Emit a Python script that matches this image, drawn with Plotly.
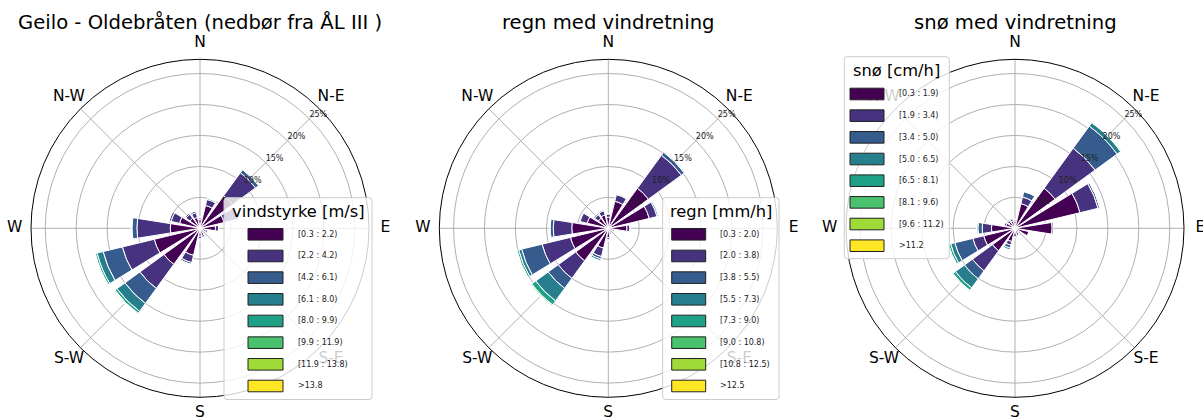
import plotly.graph_objects as go

# ---------------- data ----------------
directions = ["N", "NNE", "NE", "ENE", "E", "ESE", "SE", "SSE",
              "S", "SSW", "SW", "WSW", "W", "WNW", "NW", "NNW"]
compass_ticks = ["N", "NE", "E", "SE", "S", "SW", "W", "NW"]
compass_text = ["N", "N-E", "E", "S-E", "S", "S-W", "W", "N-W"]
radial_ticks = [5, 10, 15, 20, 25]
radial_text = ["5%", "10%", "15%", "20%", "25%"]

titles = ["Geilo - Oldebråten (nedbør fra ÅL III )", "regn med vindretning", "snø med vindretning"]
legend_titles = ["vindstyrke [m/s]", "regn [mm/h]", "snø [cm/h]"]

vind_labels = ["[0.3 : 2.2)", "[2.2 : 4.2)", "[4.2 : 6.1)", "[6.1 : 8.0)",
               "[8.0 : 9.9)", "[9.9 : 11.9)", "[11.9 : 13.8)", ">13.8"]
regn_labels = ["[0.3 : 2.0)", "[2.0 : 3.8)", "[3.8 : 5.5)", "[5.5 : 7.3)",
               "[7.3 : 9.0)", "[9.0 : 10.8)", "[10.8 : 12.5)", ">12.5"]
sno_labels = ["[0.3 : 1.9)", "[1.9 : 3.4)", "[3.4 : 5.0)", "[5.0 : 6.5)",
              "[6.5 : 8.1)", "[8.1 : 9.6)", "[9.6 : 11.2)", ">11.2"]

# percent of observations per direction (N..NNW) for each class
vind_b0 = [1.4, 3.8, 6.5, 4.0, 2.5, 1.0, 0.6, 1.2, 1.3, 4.5, 7.2, 7.6, 4.8, 3.4, 2.0, 1.8]
vind_b1 = [0.3, 1.0, 4.6, 2.5, 0.5, 0.3, 0.2, 0.3, 0.4, 1.2, 4.8, 5.3, 5.4, 1.4, 0.8, 0.8]
vind_b2 = [0.1, 0.2, 0.6, 0.1, 0.05, 0.05, 0.05, 0.1, 0.2, 0.3, 3.0, 3.2, 0.8, 0.35, 0.25, 0.3]
vind_b3 = [0.02, 0.02, 0.1, 0.02, 0.0, 0.0, 0.0, 0.02, 0.02, 0.05, 1.6, 1.0, 0.1, 0.02, 0.02, 0.02]
vind_b4 = [0.0, 0.0, 0.02, 0.0, 0.0, 0.0, 0.0, 0.0, 0.0, 0.02, 0.4, 0.3, 0.02, 0.0, 0.0, 0.0]
vind_b5 = [0.0, 0.0, 0.0, 0.0, 0.0, 0.0, 0.0, 0.0, 0.0, 0.0, 0.15, 0.12, 0.0, 0.0, 0.0, 0.0]
vind_b6 = [0.0, 0.0, 0.0, 0.0, 0.0, 0.0, 0.0, 0.0, 0.0, 0.0, 0.05, 0.05, 0.0, 0.0, 0.0, 0.0]
vind_b7 = [0.0, 0.0, 0.0, 0.0, 0.0, 0.0, 0.0, 0.0, 0.0, 0.0, 0.02, 0.02, 0.0, 0.0, 0.0, 0.0]

regn_b0 = [1.8, 4.5, 8.0, 6.8, 3.0, 0.8, 0.5, 0.9, 1.5, 3.3, 6.5, 6.3, 5.9, 3.5, 2.0, 2.2]
regn_b1 = [0.5, 1.1, 6.6, 1.3, 0.5, 0.2, 0.1, 0.2, 0.3, 1.4, 3.5, 4.7, 3.0, 1.2, 0.7, 0.7]
regn_b2 = [0.1, 0.1, 0.6, 0.2, 0.05, 0.0, 0.0, 0.05, 0.2, 0.4, 2.0, 3.4, 0.5, 0.1, 0.2, 0.2]
regn_b3 = [0.0, 0.0, 0.1, 0.0, 0.0, 0.0, 0.0, 0.0, 0.02, 0.3, 2.5, 0.5, 0.1, 0.0, 0.0, 0.02]
regn_b4 = [0.0, 0.0, 0.0, 0.0, 0.0, 0.0, 0.0, 0.0, 0.0, 0.1, 0.8, 0.3, 0.02, 0.0, 0.0, 0.0]
regn_b5 = [0.0, 0.0, 0.0, 0.0, 0.0, 0.0, 0.0, 0.0, 0.0, 0.02, 0.2, 0.1, 0.0, 0.0, 0.0, 0.0]
regn_b6 = [0.0, 0.0, 0.0, 0.0, 0.0, 0.0, 0.0, 0.0, 0.0, 0.0, 0.05, 0.03, 0.0, 0.0, 0.0, 0.0]
regn_b7 = [0.0, 0.0, 0.0, 0.0, 0.0, 0.0, 0.0, 0.0, 0.0, 0.0, 0.02, 0.0, 0.0, 0.0, 0.0, 0.0]

sno_b0 = [1.2, 4.1, 8.0, 10.8, 6.0, 2.3, 0.8, 1.2, 1.4, 2.2, 4.5, 5.2, 3.8, 1.5, 1.2, 1.2]
sno_b1 = [0.2, 1.1, 8.0, 3.0, 0.2, 0.1, 0.05, 0.1, 0.1, 0.6, 4.0, 1.8, 1.5, 0.3, 0.3, 0.3]
sno_b2 = [0.1, 0.9, 4.4, 0.3, 0.0, 0.0, 0.0, 0.0, 0.05, 0.5, 1.6, 3.0, 0.7, 0.1, 0.2, 0.2]
sno_b3 = [0.0, 0.05, 0.7, 0.02, 0.0, 0.0, 0.0, 0.0, 0.0, 0.3, 1.8, 0.7, 0.2, 0.02, 0.05, 0.02]
sno_b4 = [0.0, 0.0, 0.1, 0.0, 0.0, 0.0, 0.0, 0.0, 0.0, 0.05, 0.5, 0.35, 0.02, 0.0, 0.0, 0.0]
sno_b5 = [0.0, 0.0, 0.0, 0.0, 0.0, 0.0, 0.0, 0.0, 0.0, 0.0, 0.15, 0.15, 0.0, 0.0, 0.0, 0.0]
sno_b6 = [0.0, 0.0, 0.0, 0.0, 0.0, 0.0, 0.0, 0.0, 0.0, 0.0, 0.05, 0.05, 0.0, 0.0, 0.0, 0.0]
sno_b7 = [0.0, 0.0, 0.0, 0.0, 0.0, 0.0, 0.0, 0.0, 0.0, 0.0, 0.02, 0.02, 0.0, 0.0, 0.0, 0.0]

viridis8 = ["#440154", "#46327e", "#365c8d", "#277f8e",
            "#1fa187", "#4ac16d", "#a0da39", "#fde725"]

panels = [
    ([vind_b0, vind_b1, vind_b2, vind_b3, vind_b4, vind_b5, vind_b6, vind_b7], vind_labels),
    ([regn_b0, regn_b1, regn_b2, regn_b3, regn_b4, regn_b5, regn_b6, regn_b7], regn_labels),
    ([sno_b0, sno_b1, sno_b2, sno_b3, sno_b4, sno_b5, sno_b6, sno_b7], sno_labels),
]

# ---------------- layout geometry (pixels) ----------------
W, H = 1203, 418
FONT = "DejaVu Sans"


def px(x):
    return x / W


def py(y):
    return 1 - y / H


centers_x = [200.0, 608.3, 1015.0]
center_y = 228.3
radius = 169.0
R_MAX = 27.3
label_radius = 185.3          # compass label centres (px from centre)
LBL_RANGE = 1.01              # label ring sits at r=1 of an overlay polar

# legend boxes: (left, right, top, bottom, rect_left, rect_right, label_x, first_row_y)
legend_boxes = [
    (224.0, 372.0, 197.7, 399.5, 248.0, 283.0, 296.0, 234.3),
    (662.7, 779.0, 197.7, 399.5, 671.7, 705.7, 718.0, 234.3),
    (844.3, 949.3, 56.7, 258.7, 850.0, 884.0, 896.7, 94.0),
]
row_step = 21.67

fig = go.Figure()
layout_polars = {}

for p, (bins, labels) in enumerate(panels):
    sub = "polar" if p == 0 else f"polar{p + 1}"
    lsub = f"polar{p + 4}"
    for b, vals in enumerate(bins):
        fig.add_trace(go.Barpolar(
            r=vals, theta=directions, name=labels[b],
            marker=dict(color=viridis8[b], line=dict(color="white", width=1)),
            subplot=sub, showlegend=False,
        ))
    # radial percentage labels along the N-E spoke
    fig.add_trace(go.Scatterpolar(
        r=radial_ticks, theta=["NE"] * len(radial_ticks), text=radial_text,
        mode="text", textposition="top right", cliponaxis=False,
        textfont=dict(size=8, family=FONT, color="#222"),
        subplot=sub, showlegend=False, hoverinfo="skip",
    ))
    # compass labels on a transparent overlay polar slightly larger than the rose
    fig.add_trace(go.Scatterpolar(
        r=[1.0] * len(compass_ticks), theta=compass_ticks, text=compass_text,
        mode="text", textposition="middle center", cliponaxis=False,
        textfont=dict(size=15.5, family=FONT, color="black"),
        subplot=lsub, showlegend=False, hoverinfo="skip",
    ))
    cx = centers_x[p]
    layout_polars[sub] = dict(
        domain=dict(x=[px(cx - radius), px(cx + radius)],
                    y=[py(center_y + radius), py(center_y - radius)]),
        bgcolor="white",
        bargap=0.2,
        barmode="stack",
        radialaxis=dict(range=[0, R_MAX], tickvals=radial_ticks, showticklabels=False,
                        showline=False, ticks="", angle=45,
                        gridcolor="#b0b0b0", gridwidth=0.8),
        angularaxis=dict(type="category", categoryarray=directions,
                         rotation=90, direction="clockwise",
                         tickmode="array", tickvals=compass_ticks, showticklabels=False,
                         ticks="",
                         showline=True, linecolor="black", linewidth=1,
                         gridcolor="#b0b0b0", gridwidth=0.8),
    )
    lr = label_radius * LBL_RANGE
    layout_polars[lsub] = dict(
        domain=dict(x=[px(cx - lr), px(cx + lr)],
                    y=[py(center_y + lr), py(center_y - lr)]),
        bgcolor="rgba(0,0,0,0)",
        radialaxis=dict(range=[0, LBL_RANGE], visible=False),
        angularaxis=dict(type="category", categoryarray=directions,
                         rotation=90, direction="clockwise", visible=False),
    )

fig.update_layout(**layout_polars)

annotations = []
shapes = []
for p in range(3):
    annotations.append(dict(
        x=px(centers_x[p]), y=py(22.5), xref="paper", yref="paper",
        text=titles[p], showarrow=False, xanchor="center", yanchor="middle",
        font=dict(size=19.6, family=FONT, color="black")))

    L, R, T, B, rl, rr, lx, y0 = legend_boxes[p]
    r = 3.0
    path = (f"M {px(L + r)},{py(T)} L {px(R - r)},{py(T)} Q {px(R)},{py(T)} {px(R)},{py(T + r)} "
            f"L {px(R)},{py(B - r)} Q {px(R)},{py(B)} {px(R - r)},{py(B)} "
            f"L {px(L + r)},{py(B)} Q {px(L)},{py(B)} {px(L)},{py(B - r)} "
            f"L {px(L)},{py(T + r)} Q {px(L)},{py(T)} {px(L + r)},{py(T)} Z")
    shapes.append(dict(type="path", path=path, xref="paper", yref="paper",
                       fillcolor="rgba(255,255,255,0.8)", line=dict(color="#cccccc", width=1),
                       layer="above"))
    annotations.append(dict(
        x=px((L + R) / 2), y=py(T + 14), xref="paper", yref="paper",
        text=legend_titles[p], showarrow=False, xanchor="center", yanchor="middle",
        font=dict(size=16.3, family=FONT, color="black")))
    labels = panels[p][1]
    for i, lab in enumerate(labels):
        yc = y0 + i * row_step
        shapes.append(dict(type="rect", xref="paper", yref="paper",
                           x0=px(rl), x1=px(rr), y0=py(yc - 5.8), y1=py(yc + 5.8),
                           fillcolor=viridis8[i], line=dict(color="#222222", width=1),
                           layer="above"))
        annotations.append(dict(
            x=px(lx), y=py(yc), xref="paper", yref="paper", text=lab,
            showarrow=False, xanchor="left", yanchor="middle",
            font=dict(size=8, family=FONT, color="#222")))

fig.update_layout(
    width=W, height=H, margin=dict(l=0, r=0, t=0, b=0),
    paper_bgcolor="white", plot_bgcolor="white", showlegend=False,
    annotations=annotations, shapes=shapes,
    font=dict(family=FONT),
)

fig.write_html("out.html", config={"displayModeBar": False},
               post_script="document.body.style.margin='0px';document.body.style.padding='0px';")
